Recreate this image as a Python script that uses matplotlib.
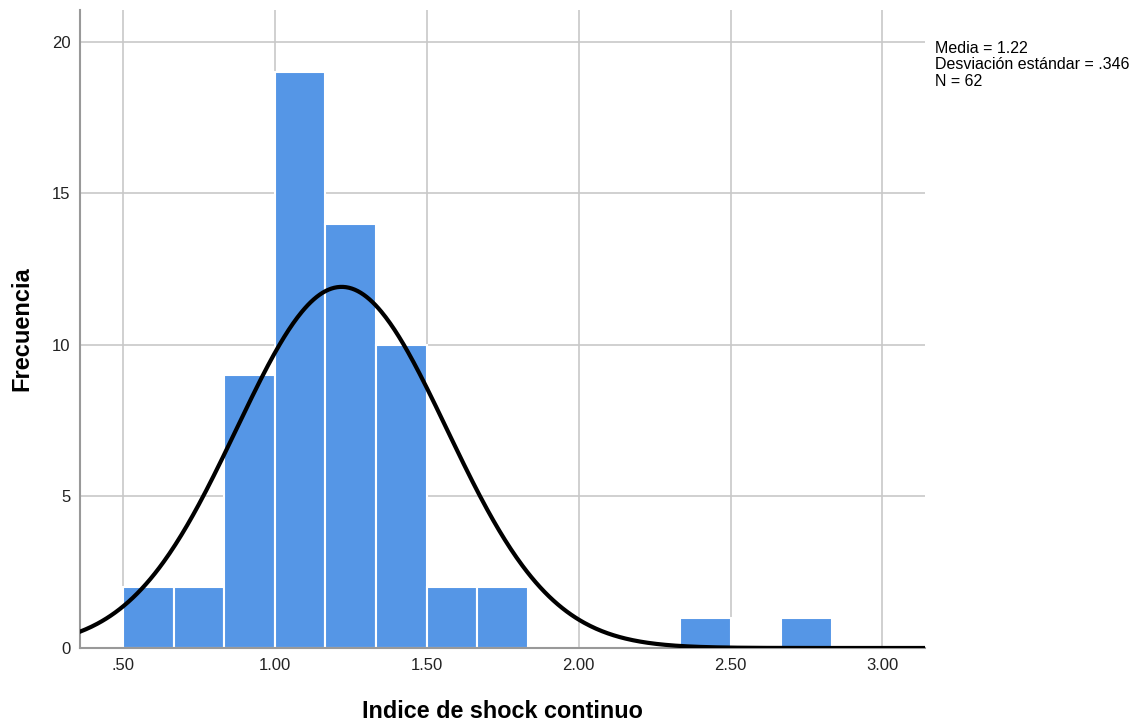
import matplotlib
matplotlib.use("Agg")
import matplotlib.pyplot as plt
import numpy as np

plt.rcParams['font.family'] = ['Liberation Sans', 'DejaVu Sans']

# histogram bins (width 1/6) and counts
bin_edges = [0.5, 0.6667, 0.8333, 1.0, 1.1667, 1.3333, 1.5, 1.6667, 1.8333,
             2.0, 2.1667, 2.3333, 2.5, 2.6667, 2.8333]
counts = [2, 2, 9, 19, 14, 10, 2, 2, 0, 0, 0, 1, 0, 1]

# summary statistics shown on the chart
media = 1.22
desv = 0.346
n = 62

xticks = [0.5, 1.0, 1.5, 2.0, 2.5, 3.0]
xtick_labels = ['.50', '1.00', '1.50', '2.00', '2.50', '3.00']
yticks = [0, 5, 10, 15, 20]

fig = plt.figure(figsize=(11.35, 7.22), dpi=100)
ax = fig.add_axes([0.0705, 0.1025, 0.7445, 0.8835])

lefts = np.array(bin_edges[:-1])
widths = np.diff(bin_edges)
ax.bar(lefts, counts, width=widths, align='edge', color='#5596e6',
       edgecolor='white', linewidth=1.5, zorder=2)

# fitted normal curve
bw = widths[0]
xs = np.linspace(0.3, 3.2, 600)
ys = n * bw / (desv * np.sqrt(2 * np.pi)) * np.exp(-0.5 * ((xs - media) / desv) ** 2)
ax.plot(xs, ys, color='black', linewidth=3.0, zorder=3)

ax.set_xlim(0.359, 3.14)
ax.set_ylim(0, 21.05)
ax.set_xticks(xticks)
ax.set_xticklabels(xtick_labels)
ax.set_yticks(yticks)
ax.tick_params(length=0, labelsize=12, colors='#222222', pad=7)
ax.grid(True, color='#c8c8c8', linewidth=1.2, zorder=0)
ax.set_axisbelow(True)

for s in ['top', 'right']:
    ax.spines[s].set_visible(False)
for s in ['left', 'bottom']:
    ax.spines[s].set_color('#999999')
    ax.spines[s].set_linewidth(1.5)

ax.set_xlabel('Indice de shock continuo', fontsize=16.8, fontweight='bold', labelpad=20)
ax.set_ylabel('Frecuencia', fontsize=17, fontweight='bold', labelpad=13)

fig.text(0.824, 0.943,
         'Media = 1.22\nDesviación estándar = .346\nN = 62',
         fontsize=11.5, va='top', ha='left', linespacing=1.1)

fig.savefig('out.png', dpi=100)
